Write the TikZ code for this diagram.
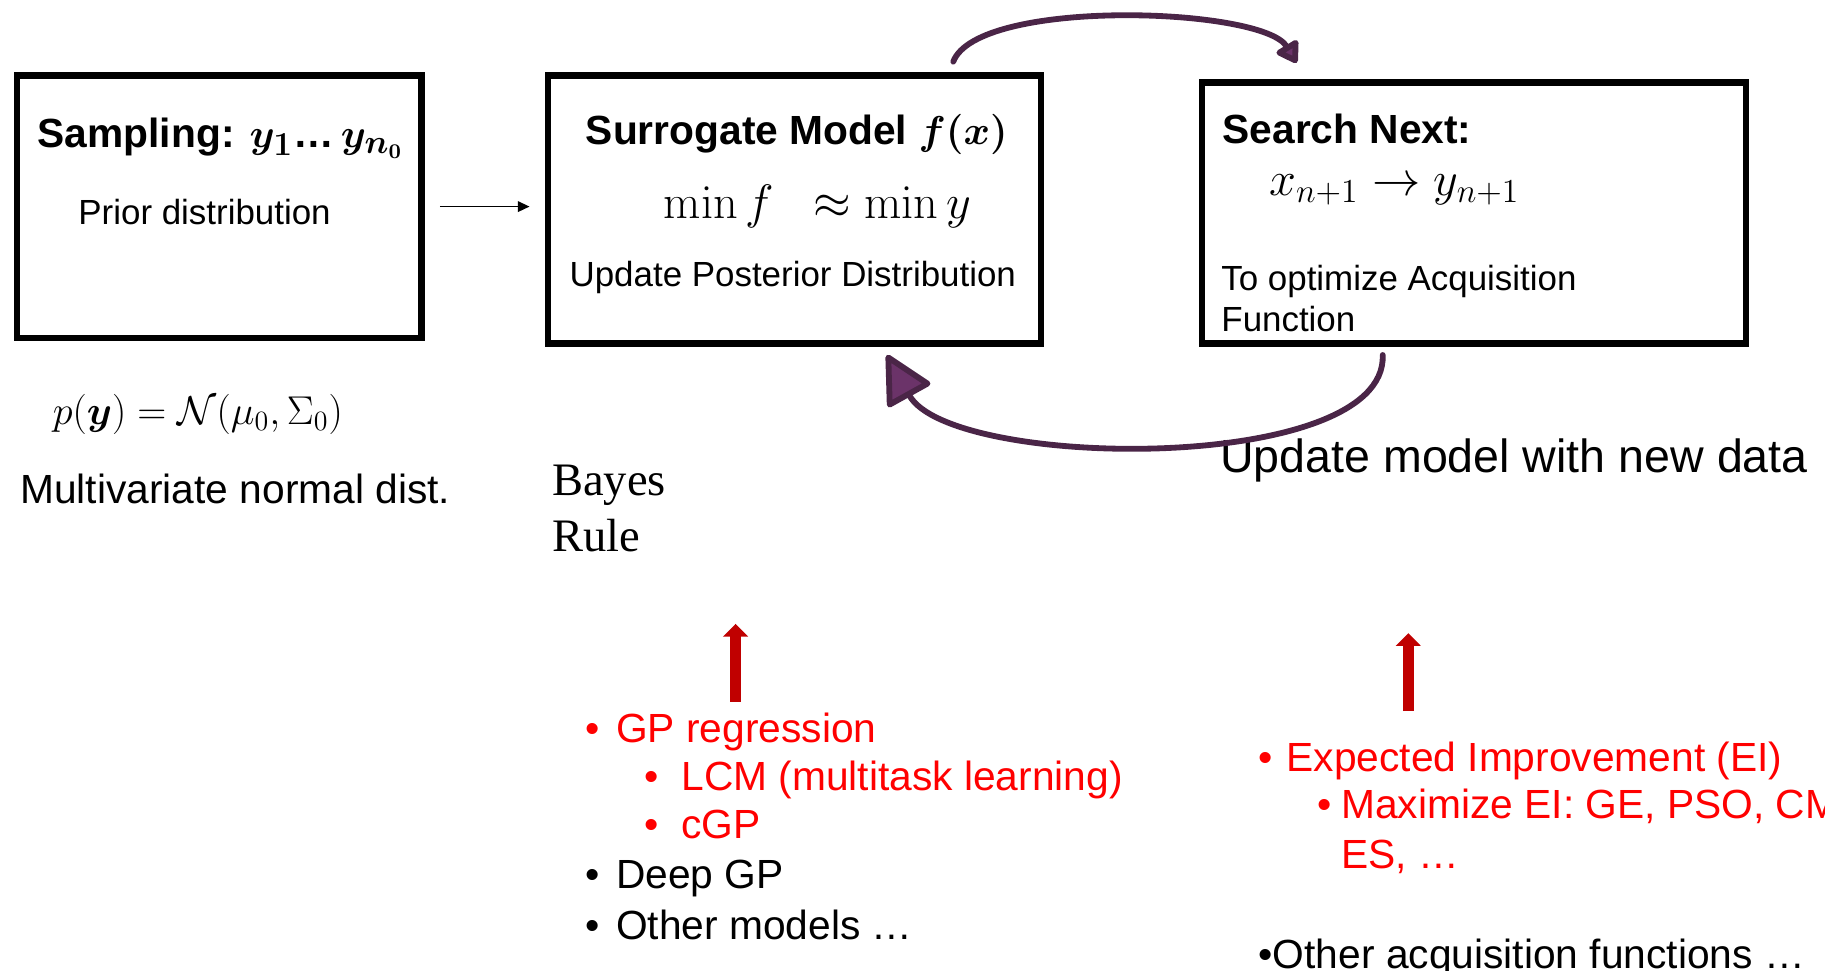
\documentclass[tikz,border=0pt]{standalone}
\usepackage{amsmath,bm}
\usepackage[no-math]{fontspec}
\setmainfont{Liberation Sans}
\newfontfamily\rmserif{Liberation Serif}
\usetikzlibrary{arrows.meta}
\definecolor{purline}{HTML}{4A2547}
\definecolor{purfill}{HTML}{6B3369}
\definecolor{darkred}{HTML}{C00000}
\definecolor{brightred}{HTML}{FF0000}
\begin{document}
\begin{tikzpicture}[x=0.5pt,y=-0.5pt,
  box/.style={draw=black, line width=2.75pt, inner sep=0pt},
  txt/.style={inner sep=0pt, anchor=base west},
  bul/.style={inner sep=0pt, anchor=base},
  head/.style={font=\fontsize{17.5}{21}\selectfont\bfseries},
  body/.style={font=\fontsize{15}{18}\selectfont},
  item/.style={font=\fontsize{17.5}{21}\selectfont},
  hot/.style={text=brightred},
  purline/.style={draw=purline, line width=2.5pt, line cap=round},
  redarrow/.style={draw=darkred, line width=4.5pt,
    -{Triangle[length=5.5pt, width=10.5pt]}}]
\useasboundingbox (0,0) rectangle (1568,834);
\clip (0,0) rectangle (1568,834);

% the three stages
\node[box, minimum width=173.75pt, minimum height=112.75pt] (sampbox) at (188.5,177.5) {};
\node[box, minimum width=211.75pt, minimum height=115.25pt] (surbox) at (682.5,180) {};
\node[box, minimum width=233.75pt, minimum height=112.25pt] (searchbox) at (1266.5,183) {};

% stage texts
\node[txt, head] (samp) at (32,127) {Sampling: {\fontsize{19}{23}\selectfont$\bm{y_1}$}…\,{\fontsize{19}{23}\selectfont$\bm{y_{n_0}}$}};
\node[txt, body] (prior) at (67,193) {Prior distribution};
\node[txt, head] (sur) at (503,124) {Surrogate Model $\bm{f(x)}$};
\node[txt, font=\fontsize{20}{24}\selectfont] (minf) at (570,188) {$\min f\ \ \approx \min y$};
\node[txt, body] (upd) at (489,246) {Update Posterior Distribution};
\node[txt, head] (search) at (1050,123) {Search Next:};
\node[txt, font=\fontsize{21}{25}\selectfont] (xn) at (1090,168) {$x_{n+1} \rightarrow y_{n+1}$};
\node[txt, body] (toopt) at (1049,250) {To optimize Acquisition};
\node[txt, body] (func) at (1049,285) {Function};

% notes under the stages
\node[txt, font=\fontsize{18}{22}\selectfont] (pyeq) at (45,365) {$p(\bm{y}) = \mathcal{N}(\mu_0, \Sigma_0)$};
\node[txt, item] (mvn) at (17,433) {Multivariate normal dist.};
\node[txt, font=\fontsize{20}{24}\selectfont\rmserif] (bayes) at (474,426) {Bayes};
\node[txt, font=\fontsize{20}{24}\selectfont\rmserif] (rule) at (474,474) {Rule};
\node[txt, font=\fontsize{20}{24}\selectfont] (newdata) at (1048,406) {Update model with new data};

% connectors between the stages
\draw[line width=0.75pt, -{Triangle[length=5pt, width=4.5pt]}, shorten <=6.5pt, shorten >=6.5pt]
  (sampbox.east) -- (sampbox.east -| surbox.west);
\draw[purline, -{Triangle[round, fill=purfill, length=10pt, width=12pt]}]
  ([shift={(136.5,-9)}]surbox.north)
  .. controls ([shift={(157.5,-64)}]surbox.north) and ([shift={(-181.5,-62)}]searchbox.north)
  .. ([shift={(-152.5,-14)}]searchbox.north);
\draw[purline, -{Triangle[round, fill=purfill, length=22pt, width=22pt]}]
  ([shift={(-78.5,7)}]searchbox.south)
  .. controls ([shift={(-74.5,110)}]searchbox.south) and ([shift={(134.5,106)}]surbox.south)
  .. ([shift={(79.5,7)}]surbox.south);

% surrogate model choices
\coordinate (la0) at (632,603);
\coordinate (la1) at (632,536);
\draw[redarrow] (la0) -- (la1);
\node[bul, item, hot] (lb1) at (509,638) {•};
\node[txt, item, hot] (gp) at (529,638) {GP regression};
\node[bul, item, hot] (lb2) at (560,679) {•};
\node[txt, item, hot] (lcm) at (585,679) {LCM (multitask learning)};
\node[bul, item, hot] (lb3) at (560,720) {•};
\node[txt, item, hot] (cgp) at (585,720) {cGP};
\node[bul, item] (lb4) at (509,763) {•};
\node[txt, item] (dgp) at (529,763) {Deep GP};
\node[bul, item] (lb5) at (509,807) {•};
\node[txt, item] (omod) at (529,807) {Other models …};

% acquisition choices
\coordinate (ra0) at (1210,611);
\coordinate (ra1) at (1210,544);
\draw[redarrow] (ra0) -- (ra1);
\node[bul, item, hot] (rb1) at (1087,663) {•};
\node[txt, item, hot] (ei) at (1105,663) {Expected Improvement (EI)};
\node[bul, item, hot] (rb2) at (1138,703) {•};
\node[txt, item, hot] (maxei) at (1152,703) {Maximize EI: GE, PSO, CMA-};
\node[txt, item, hot] (es) at (1152,746) {ES, …};
\node[txt, item] (oacq) at (1081,832) {•Other acquisition functions …};
\end{tikzpicture}
\end{document}
